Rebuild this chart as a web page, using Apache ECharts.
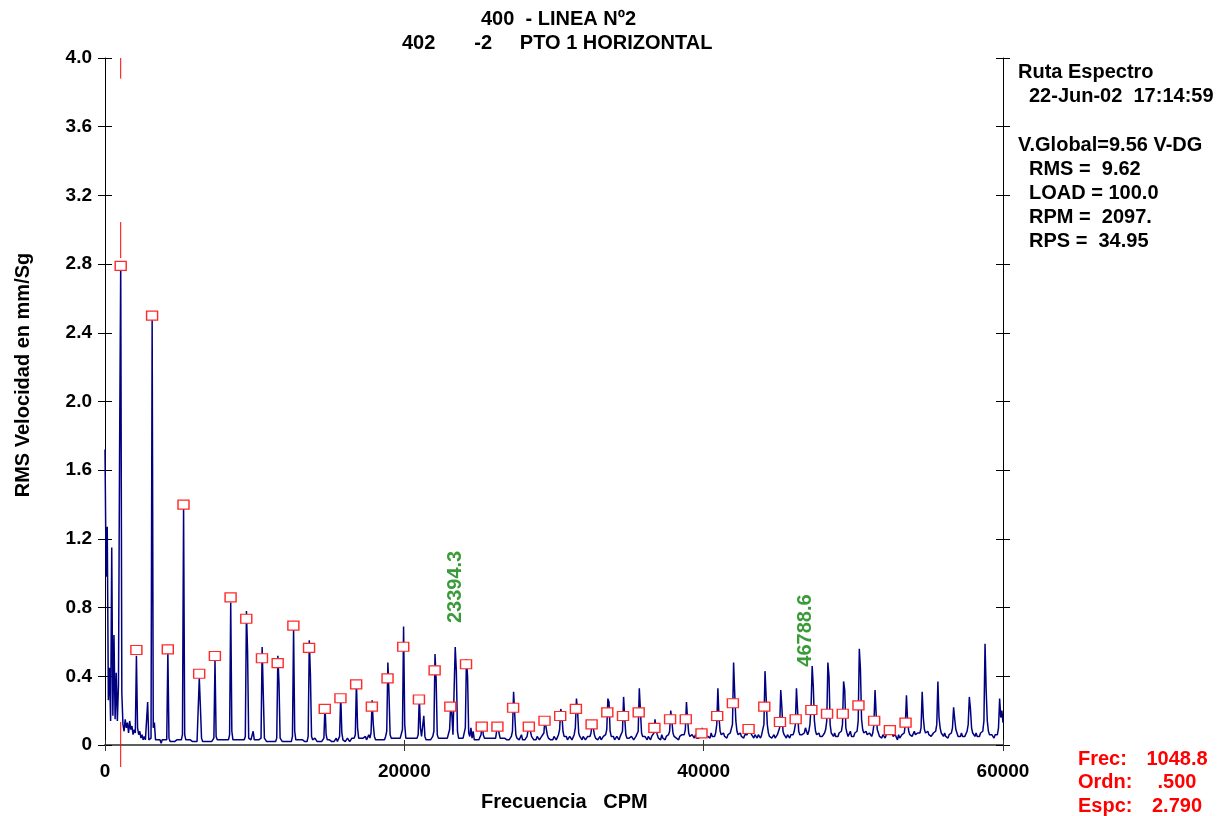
<!DOCTYPE html>
<html>
<head>
<meta charset="utf-8">
<script src="https://cdn.jsdelivr.net/npm/echarts@6/dist/echarts.min.js"></script>
<style>
  html, body { margin: 0; padding: 0; background: #fff; }
  #chart { width: 1225px; height: 816px; }
</style>
</head>
<body>
<div id="chart"></div>
<script>
// Velocity spectrum, one value per spectral line (LINE_STEP CPM apart), mm/s RMS.
// Each row holds 14 lines, roughly one 1048.8 CPM order interval.
const LINE_STEP = 75;
const spectrum = [
  1.72,.98,1.27,.26,.45,.14,1.15,.17,.64,.15,.42,.14,.35,1.72,
  2.80,.30,.12,.08,.15,.10,.13,.07,.14,.09,.11,.06,.09,.07,
  .52,.10,.06,.08,.04,.06,.03,.05,.03,.04,.25,.03,.02,.04,
  2.48,.10,.13,.03,.02,.03,.02,.03,.01,.03,.02,.03,.02,.03,
  .54,.04,.02,.03,.02,.03,.02,.02,.03,.02,.03,.02,.03,.06,
  1.38,.06,.03,.02,.03,.02,.03,.02,.02,.03,.02,.03,.02,.03,
  .39,.22,.04,.02,.03,.02,.03,.02,.03,.02,.03,.02,.03,.04,
  .49,.05,.03,.02,.03,.02,.03,.02,.03,.02,.03,.02,.03,.06,
  .83,.08,.03,.02,.03,.02,.03,.02,.03,.02,.03,.02,.03,.05,
  .78,.55,.04,.03,.03,.04,.08,.03,.02,.03,.02,.03,.02,.04,
  .57,.30,.04,.03,.02,.03,.02,.03,.02,.03,.02,.03,.02,.04,
  .52,.36,.04,.03,.02,.03,.02,.03,.02,.03,.02,.03,.02,.05,
  .68,.08,.03,.02,.03,.02,.03,.02,.03,.04,.02,.03,.02,.05,
  .61,.41,.05,.03,.02,.04,.03,.02,.03,.02,.03,.02,.03,.04,
  .23,.06,.03,.02,.03,.04,.02,.03,.02,.03,.04,.02,.03,.05,
  .29,.07,.03,.04,.02,.03,.04,.03,.02,.03,.04,.03,.04,.06,
  .37,.10,.04,.03,.04,.03,.04,.03,.05,.03,.04,.06,.04,.07,
  .26,.12,.05,.03,.04,.03,.04,.03,.04,.03,.04,.03,.05,.08,
  .48,.30,.06,.04,.03,.04,.03,.04,.03,.04,.03,.04,.05,.09,
  .69,.12,.04,.03,.04,.03,.04,.03,.04,.03,.04,.03,.04,.06,
  .28,.10,.05,.06,.17,.05,.03,.04,.03,.04,.03,.04,.05,.08,
  .53,.38,.06,.04,.03,.04,.03,.04,.03,.04,.03,.04,.05,.09,
  .24,.18,.06,.05,.57,.43,.08,.04,.03,.04,.03,.04,.05,.10,
  .50,.40,.07,.05,.10,.04,.08,.03,.04,.03,.04,.03,.04,.06,
  .13,.06,.04,.03,.04,.03,.04,.03,.04,.03,.04,.03,.04,.05,
  .13,.07,.04,.03,.04,.03,.04,.05,.03,.04,.03,.04,.05,.08,
  .31,.18,.06,.04,.05,.03,.04,.06,.03,.04,.03,.04,.05,.06,
  .13,.08,.05,.04,.03,.04,.03,.05,.04,.03,.04,.05,.06,.07,
  .16,.10,.06,.04,.05,.03,.04,.03,.05,.04,.03,.04,.06,.09,
  .21,.18,.08,.05,.04,.05,.03,.04,.05,.04,.03,.04,.06,.10,
  .27,.20,.07,.05,.04,.03,.05,.04,.03,.04,.05,.04,.05,.07,
  .14,.10,.06,.04,.05,.03,.04,.05,.03,.04,.05,.04,.06,.09,
  .27,.25,.08,.05,.04,.05,.03,.04,.05,.04,.03,.05,.06,.08,
  .28,.16,.06,.04,.05,.04,.03,.05,.04,.03,.04,.05,.06,.08,
  .33,.20,.07,.05,.04,.05,.04,.03,.05,.04,.03,.05,.06,.07,
  .15,.09,.06,.04,.05,.03,.06,.04,.05,.03,.05,.04,.06,.08,
  .20,.14,.07,.05,.06,.04,.05,.03,.05,.04,.06,.05,.06,.09,
  .25,.15,.07,.05,.04,.06,.05,.04,.06,.04,.05,.04,.05,.07,
  .10,.07,.08,.05,.06,.05,.06,.04,.07,.05,.06,.05,.07,.12,
  .33,.16,.08,.06,.05,.07,.05,.06,.04,.06,.05,.07,.08,.12,
  .48,.30,.14,.08,.06,.05,.07,.05,.06,.04,.06,.05,.06,.08,
  .12,.08,.06,.05,.04,.06,.05,.04,.06,.05,.04,.06,.07,.12,
  .43,.28,.12,.07,.05,.06,.04,.05,.06,.04,.05,.06,.07,.10,
  .32,.22,.08,.06,.05,.04,.06,.05,.04,.06,.05,.06,.08,.12,
  .33,.20,.08,.06,.05,.06,.05,.07,.10,.08,.06,.08,.12,.22,
  .46,.34,.14,.08,.06,.05,.07,.05,.06,.05,.06,.07,.09,.14,
  .48,.40,.12,.07,.06,.05,.07,.05,.06,.05,.07,.06,.08,.12,
  .37,.32,.10,.07,.05,.06,.08,.05,.06,.05,.07,.06,.08,.14,
  .56,.44,.15,.09,.07,.06,.08,.06,.05,.07,.06,.05,.07,.12,
  .32,.18,.09,.07,.05,.06,.04,.06,.05,.04,.06,.05,.07,.08,
  .11,.08,.05,.04,.06,.05,.03,.06,.04,.05,.06,.05,.07,.12,
  .29,.14,.08,.06,.07,.05,.06,.08,.06,.05,.07,.06,.07,.10,
  .31,.16,.09,.07,.06,.08,.06,.07,.05,.06,.07,.06,.08,.12,
  .37,.16,.10,.07,.06,.05,.07,.05,.06,.04,.06,.05,.07,.10,
  .22,.15,.09,.07,.05,.06,.05,.07,.05,.06,.05,.06,.08,.12,
  .28,.21,.10,.07,.06,.05,.07,.05,.06,.05,.07,.06,.08,.14,
  .59,.32,.14,.08,.06,.05,.06,.05,.04,.06,.05,.06,.10,.27,
  .16,.20,.13
];

// Order markers: amplitude read at each multiple of the cursor frequency
const ORDER_FREQ = 1048.8;
const orderMarkers = [
  2.79, .553, 2.50, .557, 1.40, .415, .518, .86, .735, .505,
  .477, .695, .565, .21, .272, .353, .223, .388, .572, .265,
  .435, .223, .47, .107, .107, .217, .107, .141, .169, .21,
  .12, .19, .169, .19, .10, .15, .15, .068, .169, .243,
  .093, .223, .134, .15, .204, .182, .182, .231, .141, .087,
  .13
];

// Cursor line pieces at the cursor frequency, [from, to] in mm/s
const cursorPieces = [[4.0, 3.88], [3.045, 2.835], [0.134, -0.128]];

// Frequency tags: [CPM, amplitude where the tag starts]
const peakTags = [[23394.3, 0.71], [46788.6, 0.456]];

const titleLines = ['400  - LINEA Nº2', '402       -2     PTO 1 HORIZONTAL'];
const infoLines = [
  ['Ruta Espectro', 0], ['22-Jun-02  17:14:59', 1], null,
  ['V.Global=9.56 V-DG', 0], ['RMS =  9.62', 1], ['LOAD = 100.0', 1],
  ['RPM =  2097.', 1], ['RPS =  34.95', 1]
];
const cursorInfo = [['Frec:', '1048.8'], ['Ordn:', '.500'], ['Espc:', '2.790']];

const FAMILY = '"Liberation Sans", Arial, Helvetica, sans-serif';
const FONT = 'bold 20px ' + FAMILY;

const chart = echarts.init(document.getElementById('chart'), null, { renderer: 'canvas' });

const Y_MIN = 0, Y_MAX = 4, Y_STEP = 0.4;
function yAxisDef(position, inside, showLine, showLabel) {
  return {
    type: 'value', position: position, min: Y_MIN, max: Y_MAX, interval: Y_STEP,
    axisLine: { show: showLine, lineStyle: { color: '#000', width: 1 } },
    axisTick: { show: true, inside: inside, length: 7, lineStyle: { color: '#000', width: 1 } },
    axisLabel: {
      show: showLabel, margin: 13, color: '#000',
      fontFamily: FAMILY, fontWeight: 'bold', fontSize: 19,
      formatter: v => (v === 0 ? '0' : v.toFixed(1))
    },
    splitLine: { show: false }
  };
}
function xAxisDef(position, tickLen, showLabel) {
  return {
    type: 'value', position: position, min: 0, max: 60000, interval: 20000,
    axisLine: { show: true, lineStyle: { color: '#555', width: 1.6 } },
    axisTick: { show: true, inside: true, length: tickLen, lineStyle: { color: '#333', width: 1 } },
    axisLabel: {
      show: showLabel, margin: 17, color: '#000',
      fontFamily: FAMILY, fontWeight: 'bold', fontSize: 19,
      formatter: v => String(v)
    },
    splitLine: { show: false }
  };
}

const textStyle = (extra) => Object.assign({ font: FONT, fill: '#000',
  textVerticalAlign: 'middle', verticalAlign: 'middle' }, extra);

const graphics = [];
titleLines.forEach((t, i) => {
  graphics.push({ type: 'text', x: i === 0 ? 481 : 402, y: 19.5 + i * 24,
    style: textStyle({ text: t, textAlign: 'left', align: 'left' }) });
});
infoLines.forEach((row, i) => {
  if (!row) return;
  graphics.push({ type: 'text', x: row[1] ? 1029 : 1018, y: 72.5 + i * 24.2,
    style: textStyle({ text: row[0], textAlign: 'left', align: 'left' }) });
});
cursorInfo.forEach((row, i) => {
  const y = 759 + i * 23.5;
  graphics.push({ type: 'text', x: 1078, y: y,
    style: textStyle({ text: row[0], fill: '#ff0000', textAlign: 'left', align: 'left' }) });
  graphics.push({ type: 'text', x: 1177, y: y,
    style: textStyle({ text: row[1], fill: '#ff0000', textAlign: 'center', align: 'center' }) });
});
graphics.push({ type: 'text', x: 23, y: 375, rotation: Math.PI / 2,
  style: textStyle({ text: 'RMS Velocidad en mm/Sg', textAlign: 'center', align: 'center' }) });
graphics.push({ type: 'text', x: 481, y: 802.5,
  style: textStyle({ text: 'Frecuencia   CPM', textAlign: 'left', align: 'left' }) });

const cursorSeries = cursorPieces.map(p => ({
  type: 'line', xAxisIndex: 0, yAxisIndex: 0, silent: true, clip: false,
  symbol: 'none', z: 1,
  lineStyle: { color: '#ff0000', width: 1 },
  data: [[ORDER_FREQ, p[0]], [ORDER_FREQ, p[1]]]
}));

chart.setOption({
  animation: false,
  backgroundColor: '#fff',
  grid: { left: 105, right: 222, top: 58, bottom: 71, containLabel: false, outerBoundsMode: 'none' },
  xAxis: [xAxisDef('bottom', 5, true), xAxisDef('top', 6, false)],
  yAxis: [
    yAxisDef('left', false, true, true),
    yAxisDef('left', true, false, false),
    yAxisDef('right', false, true, false),
    yAxisDef('right', true, false, false)
  ],
  series: cursorSeries.concat([
    {
      type: 'line', name: 'spectrum', xAxisIndex: 0, yAxisIndex: 0,
      symbol: 'none', silent: true, sampling: null, z: 2,
      lineStyle: { color: '#000080', width: 1.5 },
      data: spectrum.map((v, i) => [i * LINE_STEP, v])
    },
    {
      type: 'scatter', name: 'orders', xAxisIndex: 0, yAxisIndex: 0, silent: true, z: 3,
      symbol: 'rect', symbolSize: [11, 9],
      itemStyle: { color: '#fff', borderColor: '#ff2a2a', borderWidth: 1.3, opacity: 1 },
      data: orderMarkers.map((v, i) => [(i + 1) * ORDER_FREQ, v])
    },
    {
      type: 'scatter', name: 'tags', xAxisIndex: 0, yAxisIndex: 0, silent: true, z: 4,
      symbolSize: 0,
      label: {
        show: true, position: 'inside', rotate: 90, align: 'left', verticalAlign: 'middle',
        color: '#0a820a', fontFamily: FAMILY, fontWeight: 'bold', fontSize: 20,
        formatter: p => p.value[0].toFixed(1)
      },
      data: peakTags
    }
  ]),
  graphic: graphics
});
</script>
</body>
</html>
